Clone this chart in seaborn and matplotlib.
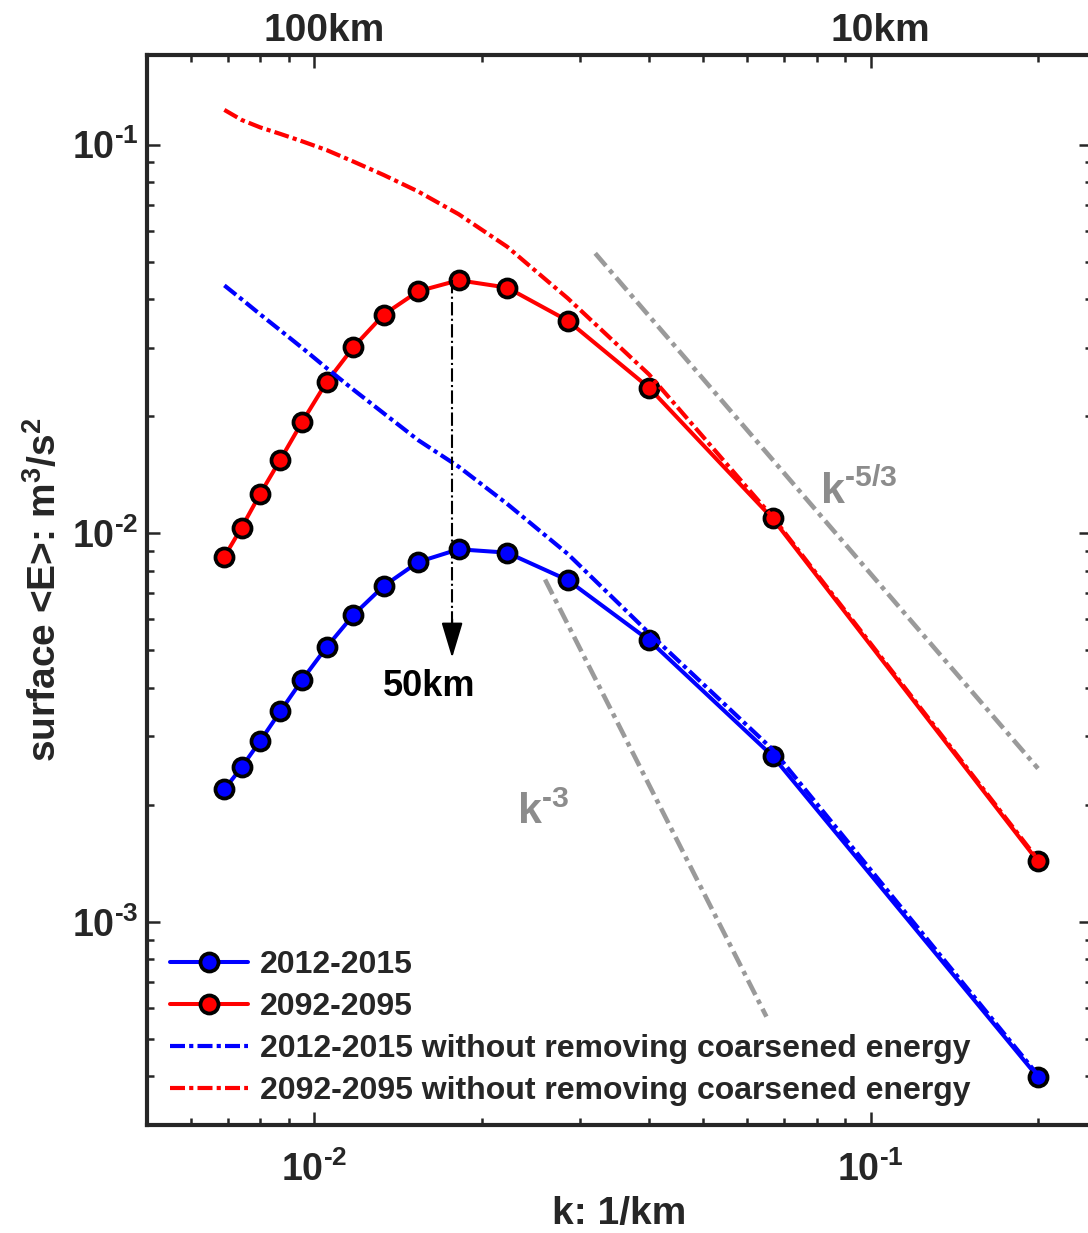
import numpy as np
import matplotlib
matplotlib.use("Agg")
import matplotlib.pyplot as plt
import matplotlib.transforms as mtransforms
from matplotlib.ticker import NullFormatter, NullLocator, FuncFormatter
import seaborn as sns

sns.set_theme(style="ticks")
plt.rcParams["font.family"] = ["Liberation Sans", "DejaVu Sans"]
plt.rcParams["font.weight"] = "bold"
plt.rcParams["axes.labelweight"] = "bold"
plt.rcParams["axes.unicode_minus"] = False
plt.rcParams["mathtext.fontset"] = "custom"
plt.rcParams["mathtext.rm"] = "Liberation Sans:bold"
plt.rcParams["mathtext.it"] = "Liberation Sans:bold"
plt.rcParams["mathtext.bf"] = "Liberation Sans:bold"
plt.rcParams["mathtext.default"] = "regular"

# length scales (km) of the coarse-graining filter, k = 1/L
scales_km = [145, 135, 125, 115, 105, 95, 85, 75, 65, 55, 45, 35, 25, 15, 5]
E_2012 = [0.00219, 0.00250, 0.00292, 0.00348, 0.00420, 0.00509, 0.00616, 0.00731,
          0.00843, 0.00909, 0.00891, 0.00757, 0.00530, 0.00267, 0.000398]
E_2092 = [0.00870, 0.01034, 0.01263, 0.01546, 0.01937, 0.02446, 0.03011, 0.03650,
          0.04193, 0.04475, 0.04285, 0.03521, 0.02366, 0.01091, 0.00143]
E_2012_raw = [0.0434, 0.0400, 0.03656, 0.03325, 0.02995, 0.02660, 0.02340, 0.02035,
              0.01735, 0.01483, 0.01190, 0.00884, 0.00553, 0.002777, 0.000403]
E_2092_raw = [0.1228, 0.1157, 0.1107, 0.1065, 0.1019, 0.0968, 0.0904, 0.0835,
              0.0757, 0.0662, 0.0546, 0.0402, 0.0256, 0.01101, 0.001445]

# reference slopes
k53_k = [0.032, 0.2]
k53_E = [0.0525, 0.00248]
k3_k = [0.026, 0.065]
k3_E = [0.0076, 0.00057]

# 50km arrow
arrow_k = 0.0177
arrow_top = 0.0447
arrow_tip = 0.0047

top_ticks = [0.01, 0.1]
top_labels = ["100km", "10km"]

k = 1.0 / np.array(scales_km, dtype=float)

fig = plt.figure(figsize=(10.88, 12.33), dpi=100)
ax = fig.add_axes([0.1348, 0.0876, 0.8688, 0.8678])
ax.set_xscale("log")
ax.set_yscale("log")

dashdot = (0, (3.6, 1.0, 1.0, 1.0))
solid_kw = dict(lw=2.9, marker="o", ms=13, mec="black", mew=2.7, sort=False)

sns.lineplot(x=k, y=E_2012, color="blue", mfc="blue", label="2012-2015", ax=ax, **solid_kw)
sns.lineplot(x=k, y=E_2092, color="red", mfc="red", label="2092-2095", ax=ax, **solid_kw)
sns.lineplot(x=k, y=E_2012_raw, color="blue", lw=3.0, sort=False,
             label="2012-2015 without removing coarsened energy", ax=ax)
ax.lines[-1].set_linestyle(dashdot)
sns.lineplot(x=k, y=E_2092_raw, color="red", lw=3.0, sort=False,
             label="2092-2095 without removing coarsened energy", ax=ax)
ax.lines[-1].set_linestyle(dashdot)

sns.lineplot(x=k53_k, y=k53_E, color="#9a9a9a", lw=3.3, legend=False, ax=ax)
ax.lines[-1].set_linestyle((0, (3.6, 1.2, 1.0, 1.2)))
sns.lineplot(x=k3_k, y=k3_E, color="#9a9a9a", lw=3.3, legend=False, ax=ax)
ax.lines[-1].set_linestyle((0, (3.6, 1.2, 1.0, 1.2)))

# arrow marking the 50km peak
ax.plot([arrow_k, arrow_k], [arrow_top, arrow_tip * 1.1], color="black", lw=1.5, ls="-.")
ax.annotate("", xy=(arrow_k, arrow_tip), xytext=(arrow_k, arrow_tip * 1.3),
            arrowprops=dict(arrowstyle="-|>,head_width=0.3,head_length=1.0",
                            color="black", lw=1.5, mutation_scale=22))
ax.text(0.0161, 0.00404, "50km", ha="center", va="center", fontsize=26, color="black")
ax.text(0.0232, 0.00178, r"k$^{\text{-3}}$", ha="left", va="baseline", fontsize=31,
        color="#8c8c8c")
ax.text(0.0813, 0.0119, r"k$^{\text{-5/3}}$", ha="left", va="baseline", fontsize=31,
        color="#8c8c8c")

ax.set_xlim(0.005, 0.25)
ax.set_ylim(3e-4, 0.17)
pow_fmt = FuncFormatter(lambda v, _: r"10$^{\text{%d}}$" % int(round(np.log10(v))))
ax.xaxis.set_major_formatter(pow_fmt)
ax.yaxis.set_major_formatter(pow_fmt)
ax.xaxis.set_minor_formatter(NullFormatter())
ax.yaxis.set_minor_formatter(NullFormatter())

ax.tick_params(which="both", direction="in", top=True, right=True, width=1.8,
               color="#262626", labelsize=27)
ax.tick_params(which="major", length=9.5)
ax.tick_params(which="minor", length=5)
ax.tick_params(axis="x", pad=19)
ax.tick_params(axis="y", pad=6)
for s in ax.spines.values():
    s.set_linewidth(3)
    s.set_color("#262626")

ax.set_xlabel("k: 1/km", fontsize=28, labelpad=5)
ax.set_ylabel("surface <E>: m$^3$/s$^2$", fontsize=28)
ax.yaxis.set_label_coords(-0.088, 0.5)

sec = ax.secondary_xaxis("top")
sec.set_xticks(top_ticks)
sec.set_xticklabels(top_labels)
sec.xaxis.set_minor_locator(NullLocator())
sec.tick_params(length=0, pad=4, labelsize=28)
sec.spines["top"].set_visible(False)
shift = mtransforms.ScaledTranslation(10 / 100, 0, fig.dpi_scale_trans)
for lab in sec.get_xticklabels():
    lab.set_transform(lab.get_transform() + shift)

ax.legend(loc="lower left", bbox_to_anchor=(0.0246, 0.018), frameon=False,
          fontsize=23, handlelength=2.45, handletextpad=0.38, labelspacing=0.37,
          borderpad=0, borderaxespad=0)

fig.savefig("out.png", dpi=100)
